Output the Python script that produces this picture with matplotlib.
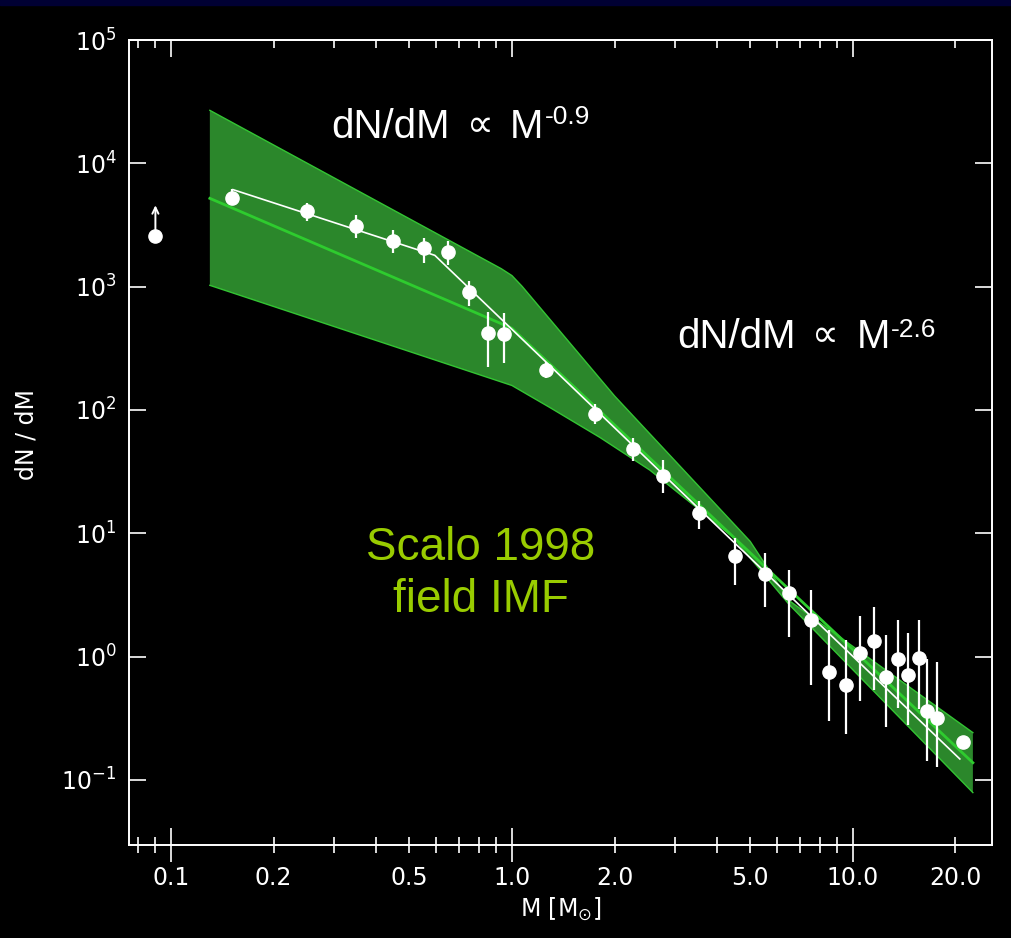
import numpy as np
import matplotlib
matplotlib.use("Agg")
import matplotlib.pyplot as plt
from matplotlib.patches import Rectangle
from matplotlib.ticker import FixedLocator, FixedFormatter, NullLocator, NullFormatter

# ---------------- data ----------------
mass = [0.151, 0.251, 0.35, 0.449, 0.552, 0.650, 0.750, 0.848, 0.949,
        1.255, 1.75, 2.26, 2.77, 3.55, 4.51, 5.52, 6.50, 7.56, 8.54,
        9.55, 10.5, 11.5, 12.5, 13.6, 14.5, 15.6, 16.5, 17.6, 21.1]
dndm = [5270, 4100, 3080, 2345, 2075, 1910, 906, 422, 417,
        210, 92.5, 47.9, 29.1, 14.5, 6.58, 4.71, 3.28, 1.99, 0.751,
        0.585, 1.07, 1.35, 0.680, 0.963, 0.715, 0.976, 0.360, 0.319, 0.202]
dndm_hi = [6150, 4760, 3790, 2865, 2500, 2335, 1107, 621, 608,
           245, 111, 59.8, 39.4, 18.4, 9.2, 6.96, 5.07, 3.49, 1.65,
           1.36, 2.12, 2.51, 1.51, 1.97, 1.56, 1.97, 0.963, 0.899, 0.202]
dndm_lo = [4570, 3400, 2470, 1865, 1555, 1490, 698, 222, 239,
           181, 76.7, 38.3, 21.3, 10.8, 3.83, 2.54, 1.43, 0.593, 0.299,
           0.238, 0.434, 0.533, 0.271, 0.386, 0.281, 0.379, 0.142, 0.128, 0.202]

limit_mass = 0.09
limit_value = 2560
limit_tip = 4570

fit_mass = [0.152, 0.594, 20.6]
fit_value = [6120, 1795, 0.148]

scalo_mass = [0.13, 1.0, 22.5]
scalo_value = [5200, 460, 0.138]

band_upper_mass = [0.13, 0.93, 1.0, 1.07, 2.0, 5.0, 6.5, 22.5]
band_upper_value = [26900, 1400, 1230, 1010, 130, 8.6, 2.85, 0.242]
band_lower_mass = [0.13, 1.0, 1.29, 1.81, 2.54, 3.56, 4.45, 6.5, 22.5]
band_lower_value = [1025, 158, 105, 60, 32.5, 15.4, 9.3, 2.65, 0.079]

x_major = [0.1, 1.0, 10.0]
x_major_labels = ["0.1", "1.0", "10.0"]
x_minor = [0.08, 0.09, 0.2, 0.3, 0.4, 0.5, 0.6, 0.7, 0.8, 0.9,
           2, 3, 4, 5, 6, 7, 8, 9, 20]
x_minor_labels = ["", "", "0.2", "", "", "0.5", "", "", "", "",
                  "2.0", "", "", "5.0", "", "", "", "", "20.0"]
y_major = [1e-1, 1e0, 1e1, 1e2, 1e3, 1e4, 1e5]
y_labels = [r"$10^{-1}$", r"$10^{0}$", r"$10^{1}$", r"$10^{2}$",
            r"$10^{3}$", r"$10^{4}$", r"$10^{5}$"]

# ---------------- figure ----------------
W, H = 1011, 938
fig = plt.figure(figsize=(W / 100, H / 100), dpi=100, facecolor="black")
fig.patches.append(Rectangle((0, 1 - 5 / H), 1, 5 / H, transform=fig.transFigure,
                             color="#000033", zorder=0))

ax = fig.add_axes([129 / W, 1 - 845 / H, (992 - 129) / W, (845 - 40) / H])
ax.set_facecolor("black")
ax.set_xscale("log")
ax.set_yscale("log")
ax.set_xlim(0.0753, 25.6)
ax.set_ylim(0.0297, 1e5)

# band
um = np.array(band_upper_mass); uv = np.array(band_upper_value)
lm = np.array(band_lower_mass); lv = np.array(band_lower_value)
ax.fill(np.concatenate([um, lm[::-1]]), np.concatenate([uv, lv[::-1]]),
        facecolor="#2b872b", edgecolor="none", zorder=1)
ax.plot(um, uv, color="#33c433", lw=1.0, zorder=2)
ax.plot(lm, lv, color="#33c433", lw=1.0, zorder=2)
ax.plot(scalo_mass, scalo_value, color="#2ecc2e", lw=2.0, zorder=2)

# fit line
ax.plot(fit_mass, fit_value, color="white", lw=1.2, zorder=3)

# data points
m = np.array(mass); v = np.array(dndm)
yerr = [v - np.array(dndm_lo), np.array(dndm_hi) - v]
ax.errorbar(m, v, yerr=yerr, fmt="o", color="white", ms=9.5, mec="white",
            elinewidth=1.6, capsize=0, zorder=4)
ax.plot([limit_mass], [limit_value], "o", color="white", ms=9.5, zorder=4)
ax.annotate("", xy=(limit_mass, limit_tip), xytext=(limit_mass, limit_value),
            arrowprops=dict(arrowstyle="->,head_length=0.45,head_width=0.22",
                            color="white", lw=1.4, shrinkA=5, shrinkB=0), zorder=4)

# spines & ticks
for s in ax.spines.values():
    s.set_color("white")
    s.set_linewidth(1.4)

ax.xaxis.set_major_locator(FixedLocator(x_major))
ax.xaxis.set_major_formatter(FixedFormatter(x_major_labels))
ax.xaxis.set_minor_locator(FixedLocator(x_minor))
ax.xaxis.set_minor_formatter(FixedFormatter(x_minor_labels))
ax.tick_params(axis="x", which="major", direction="inout", length=24, width=1.2,
               colors="white", labelsize=17, pad=3, top=False)
ax.tick_params(axis="x", which="minor", direction="inout", length=12, width=1.2,
               colors="white", labelsize=17, pad=9, top=False)

ax.yaxis.set_major_locator(FixedLocator(y_major))
ax.yaxis.set_major_formatter(FixedFormatter(y_labels))
ax.yaxis.set_minor_locator(NullLocator())
ax.tick_params(axis="y", which="major", direction="in", length=12, width=1.2,
               colors="white", labelsize=17, pad=9, left=True, right=True)

top = ax.secondary_xaxis("top", functions=(lambda x: x, lambda x: x))
top.xaxis.set_major_locator(FixedLocator(x_major))
top.xaxis.set_minor_locator(FixedLocator(x_minor))
top.xaxis.set_major_formatter(NullFormatter())
top.xaxis.set_minor_formatter(NullFormatter())
top.tick_params(which="major", direction="in", length=12, width=1.2, colors="white")
top.tick_params(which="minor", direction="in", length=6, width=1.2, colors="white")
top.spines["top"].set_color("white")
top.spines["top"].set_linewidth(1.4)

ax.set_xlabel(r"M [M$_{\odot}$]", color="white", fontsize=17, labelpad=4)
fig.text(27 / W, 1 - 435 / H, "dN / dM", rotation=90, color="white",
         fontsize=17, ha="center", va="center")

# annotations
def px(x, y):
    return x / W, 1 - y / H

sans = ["Liberation Sans", "DejaVu Sans"]
fig.text(*px(331, 137.7), "dN/dM", color="white", fontsize=29, family=sans, va="baseline")
fig.text(*px(467, 136), "\u221d", color="white", fontsize=27, family=["DejaVu Sans"], va="baseline")
fig.text(*px(510, 137.7), "M", color="white", fontsize=29, family=sans, va="baseline")
fig.text(*px(545, 124.3), "-0.9", color="white", fontsize=19, family=sans, va="baseline")

fig.text(*px(677, 348), "dN/dM", color="white", fontsize=29, family=sans, va="baseline")
fig.text(*px(812, 346.3), "\u221d", color="white", fontsize=27, family=["DejaVu Sans"], va="baseline")
fig.text(*px(857, 348), "M", color="white", fontsize=29, family=sans, va="baseline")
fig.text(*px(891, 336.7), "-2.6", color="white", fontsize=19, family=sans, va="baseline")

green = "#99cc00"
fig.text(*px(481, 560), "Scalo 1998", color=green, fontsize=33, family=sans,
         ha="center", va="baseline")
fig.text(*px(481, 612), "field IMF", color=green, fontsize=33, family=sans,
         ha="center", va="baseline")

fig.savefig("out.png", dpi=100, facecolor="black")
